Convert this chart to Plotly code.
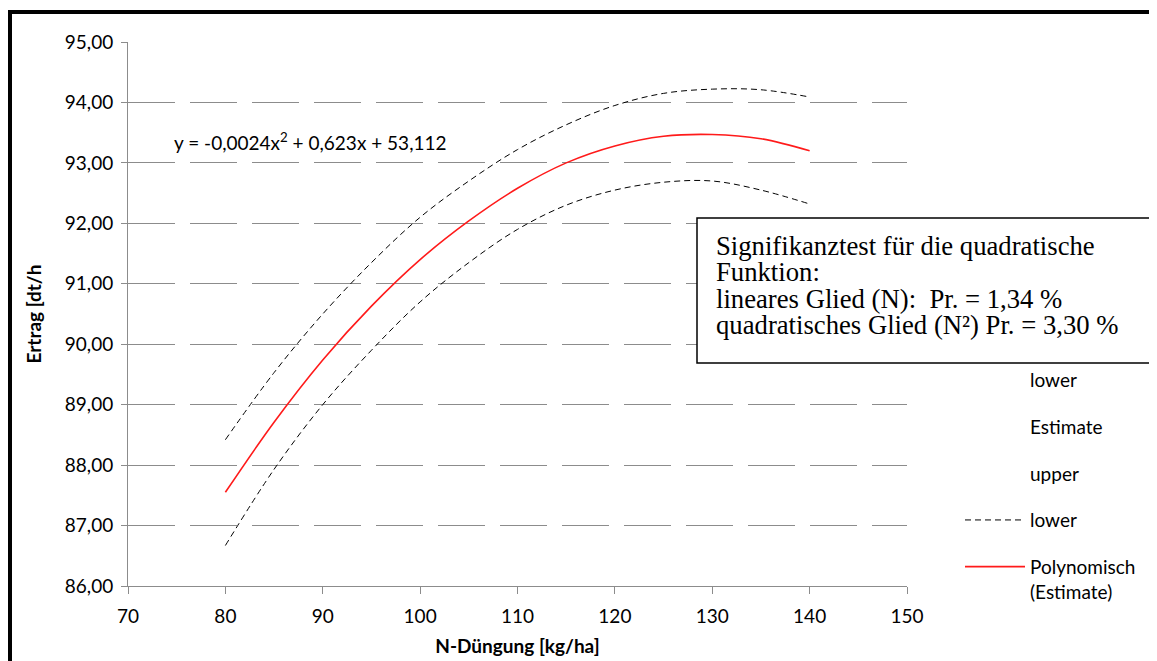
import plotly.graph_objects as go

# Data
n_dose = [80, 85, 90, 95, 100, 105, 110, 115, 120, 125, 130, 135, 140]
estimate = [87.55, 88.71, 89.74, 90.63, 91.40, 92.04, 92.58, 93.00, 93.28, 93.44, 93.47, 93.40, 93.20]
upper = [88.42, 89.53, 90.50, 91.35, 92.10, 92.70, 93.22, 93.63, 93.95, 94.15, 94.22, 94.21, 94.09]
lower = [86.67, 87.93, 89.00, 89.90, 90.70, 91.35, 91.90, 92.30, 92.55, 92.68, 92.70, 92.55, 92.32]

x_ticks = [70, 80, 90, 100, 110, 120, 130, 140, 150]
y_ticks = [86, 87, 88, 89, 90, 91, 92, 93, 94, 95]

equation_text = "y = -0,0024x<sup>2</sup> + 0,623x + 53,112"
box_lines = [
    "Signifikanztest für die quadratische",
    "Funktion:",
    "lineares Glied (N):  Pr. = 1,34 %",
    "quadratisches Glied (N²) Pr. = 3,30 %",
]

FONT = "Lato"
transparent = "rgba(0,0,0,0)"

# page offset (default body margin of the html page)
OFF = 8
W, H = 1157, 661
FIG_W, FIG_H = W - OFF, H - OFF
# plot area in page pixels
L, R, T, B = 128, 907, 42, 586
def px(xp):
    return (xp - L) / (R - L)
def py(yp):
    return (B - yp) / (B - T)

fig = go.Figure()

fig.add_trace(go.Scatter(x=n_dose, y=lower, mode="lines", name="lower",
                         line=dict(color=transparent, width=1),
                         legendgroup="g1", hoverinfo="skip"))
fig.add_trace(go.Scatter(x=n_dose, y=estimate, mode="lines", name="Estimate",
                         line=dict(color=transparent, width=1),
                         legendgroup="g2", hoverinfo="skip"))
fig.add_trace(go.Scatter(x=n_dose, y=upper, mode="lines", name="upper",
                         line=dict(color=transparent, width=1),
                         legendgroup="g3", hoverinfo="skip"))
fig.add_trace(go.Scatter(x=n_dose, y=upper, mode="lines", name="upper",
                         line=dict(color="black", width=1, dash="6px,4px", shape="spline"),
                         showlegend=False))
fig.add_trace(go.Scatter(x=n_dose, y=lower, mode="lines", name="lower",
                         line=dict(color="black", width=1, dash="6px,4px", shape="spline"),
                         legendgroup="g4"))
fig.add_trace(go.Scatter(x=n_dose, y=estimate, mode="lines",
                         name="Polynomisch<br>(Estimate)",
                         line=dict(color="#ff1a1a", width=1.6, shape="spline"),
                         legendgroup="g5"))

fig.add_annotation(x=px(310), y=py(141), xref="paper", yref="paper", text=equation_text,
                   showarrow=False, xanchor="center", yanchor="middle",
                   font=dict(family=FONT, size=19, color="black"))

# significance test box
fig.add_shape(type="rect", xref="paper", yref="paper",
              x0=px(697), x1=px(1153), y0=py(363), y1=py(218),
              line=dict(color="black", width=1.5), fillcolor="white", layer="above")
for i, line_txt in enumerate(box_lines):
    fig.add_annotation(x=px(714), y=py(246 + 26.3 * i), xref="paper", yref="paper",
                       text=line_txt, showarrow=False, xanchor="left", yanchor="middle",
                       font=dict(family="Liberation Serif", size=26.7, color="black"))

# thick outer frame (only left and top edges are visible)
fig.add_shape(type="line", xref="paper", yref="paper",
              x0=px(8), x1=px(1400), y0=py(12), y1=py(12),
              line=dict(color="black", width=4), layer="above")
fig.add_shape(type="line", xref="paper", yref="paper",
              x0=px(10), x1=px(10), y0=py(10), y1=py(900),
              line=dict(color="black", width=4), layer="above")

fig.update_layout(
    width=FIG_W, height=FIG_H,
    margin=dict(l=L - OFF, r=FIG_W - (R - OFF), t=T - OFF, b=FIG_H - (B - OFF),
                autoexpand=False),
    paper_bgcolor="white", plot_bgcolor="white",
    separators=", ",
    font=dict(family=FONT, size=19, color="black"),
    showlegend=True,
    legend=dict(x=px(960), y=py(361), xanchor="left", yanchor="top",
                traceorder="grouped", tracegroupgap=19, itemwidth=60,
                font=dict(family=FONT, size=19, color="black"),
                bgcolor=transparent, valign="top"),
    xaxis=dict(range=[70, 150], tickvals=x_ticks, showgrid=False, automargin=False,
               showline=True, linecolor="#8c8c8c", linewidth=1,
               ticks="outside", ticklen=7, tickcolor="#8c8c8c", ticklabelstandoff=6,
               title=dict(text="<b>N-Düngung [kg/ha]</b>", standoff=13,
                          font=dict(family=FONT, size=19)),
               zeroline=False),
    yaxis=dict(range=[86, 95], tickvals=y_ticks, tickformat=".2f", automargin=False,
               showgrid=True, gridcolor="#8c8c8c", gridwidth=1, griddash="47px,15px",
               showline=True, linecolor="#8c8c8c", linewidth=1,
               ticks="outside", ticklen=6, tickcolor="#8c8c8c", ticklabelstandoff=4,
               title=dict(text="<b>Ertrag [dt/h</b>", standoff=18,
                          font=dict(family=FONT, size=19)),
               zeroline=False),
)

fig.write_html(
    "out.html",
    post_script="document.documentElement.style.overflow='hidden';"
                "document.body.style.overflow='hidden';",
)
